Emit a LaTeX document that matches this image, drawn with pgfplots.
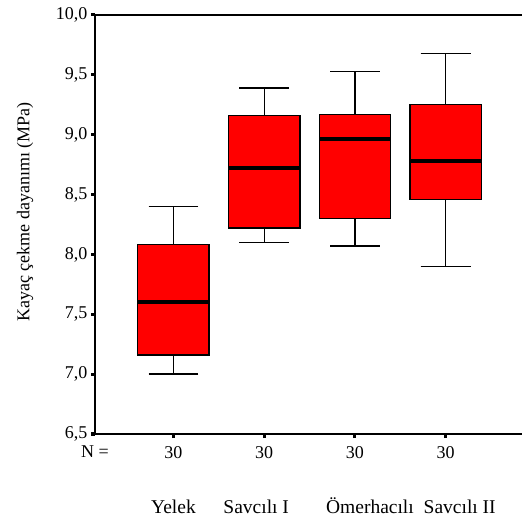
\documentclass[border=0pt]{standalone}
\usepackage{pgfplots}
\pgfplotsset{compat=1.18}
\usepgfplotslibrary{statistics}
\usepackage{fontspec}
\setmainfont{Liberation Serif}
\begin{document}
\begin{tikzpicture}[font=\fontsize{18bp}{21bp}\selectfont]
\useasboundingbox (0,0) rectangle (522bp,520bp);
\begin{axis}[
  at={(95bp,86bp)}, anchor=south west,
  scale only axis, width=429bp, height=419bp,
  xmin=0.135, xmax=4.863, ymin=6.5, ymax=10,
  axis line style={draw=none},
  clip=false,
  xtick={1,2,3,4}, xticklabels={30,30,30,30},
  xticklabel style={yshift=-5bp},
  ytick={6.5,7,7.5,8,8.5,9,9.5,10},
  xtick pos=left, ytick pos=left,
  tick align=outside, major tick length=4bp,
  tick style={line width=3bp, black},
  yticklabel style={/pgf/number format/.cd, fixed, fixed zerofill, precision=1, use comma, assume math mode=true},
  every tick label/.append style={font=\fontsize{18bp}{21bp}\selectfont},
  extra x ticks={1,2,3,4},
  extra x tick labels={Yelek,{\hspace*{-16bp}Savcılı I},{\hspace*{30bp}Ömerhacılı},{\hspace*{28bp}Savcılı II}},
  extra x tick style={major tick length=0pt, xticklabel style={yshift=-57bp, text height=14bp, text depth=4bp, font=\fontsize{19.5bp}{22bp}\selectfont}},
  boxplot/draw direction=y,
  boxplot/box extend=0.786,
  boxplot/whisker extend=0.55,
]
\addplot+[boxplot prepared={draw position=1, lower whisker=7.00, lower quartile=7.16, median=7.60, upper quartile=8.08, upper whisker=8.40, every median/.style={line width=4bp}}, mark=none, fill=red, draw=black, line width=1.3bp] coordinates {};
\addplot+[boxplot prepared={draw position=2, lower whisker=8.10, lower quartile=8.22, median=8.72, upper quartile=9.16, upper whisker=9.39, every median/.style={line width=4bp}}, mark=none, fill=red, draw=black, line width=1.3bp] coordinates {};
\addplot+[boxplot prepared={draw position=3, lower whisker=8.07, lower quartile=8.30, median=8.96, upper quartile=9.17, upper whisker=9.53, every median/.style={line width=4bp}}, mark=none, fill=red, draw=black, line width=1.3bp] coordinates {};
\addplot+[boxplot prepared={draw position=4, lower whisker=7.90, lower quartile=8.46, median=8.78, upper quartile=9.25, upper whisker=9.68, every median/.style={line width=4bp}}, mark=none, fill=red, draw=black, line width=1.3bp] coordinates {};
\draw[line width=1.6bp, black] (rel axis cs:1,1) -- (rel axis cs:0,1) -- (rel axis cs:0,0) -- (rel axis cs:1,0);
\node at (rel axis cs:0,0) [yshift=-18bp] {N =};
\node[rotate=90] at ([xshift=-70bp]rel axis cs:0,0.53) {Kayaç çekme dayanımı (MPa)};
\end{axis}
\end{tikzpicture}
\end{document}
